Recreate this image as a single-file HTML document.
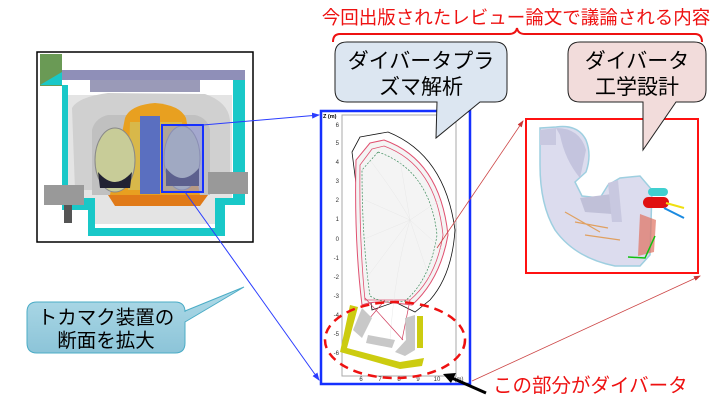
<!DOCTYPE html>
<html><head><meta charset="utf-8"><style>
html,body{margin:0;padding:0;background:#fff;width:720px;height:405px;overflow:hidden}
svg{display:block}
text{font-family:"Liberation Sans","Noto Sans CJK JP",sans-serif}
</style></head><body>
<svg width="720" height="405" viewBox="0 0 720 405" xmlns="http://www.w3.org/2000/svg">
<defs>
<marker id="ab" markerWidth="8" markerHeight="8" refX="7" refY="4" orient="auto" markerUnits="userSpaceOnUse"><path d="M0,1 L8,4 L0,7 z" fill="#2a3cff"/></marker>
<marker id="ar" markerWidth="7" markerHeight="7" refX="6" refY="3.5" orient="auto" markerUnits="userSpaceOnUse"><path d="M0,1 L7,3.5 L0,6 z" fill="#c33"/></marker>
<linearGradient id="tg" x1="0" y1="0" x2="0" y2="1"><stop offset="0" stop-color="#b0dbe8"/><stop offset="1" stop-color="#8cc4d8"/></linearGradient>
</defs>

<text x="516" y="24" font-size="18.5" fill="#ee1111" text-anchor="middle">今回出版されたレビュー論文で議論される内容</text>
<path d="M333,42 Q333,34 340,34 L509,34 Q516,34 517,28 Q518,34 525,34 L695,34 Q702,34 702,42" fill="none" stroke="#ee1111" stroke-width="2"/>

<!-- tokamak picture -->
<rect x="37" y="52" width="216" height="190" fill="#fff" stroke="#000" stroke-width="1.5"/>
<rect x="40" y="54" width="22" height="32" fill="#6a9a55"/>
<path d="M40,85 L62,72 L62,210 L88,210 L88,236 L225,236 L225,205 L245,205 L245,80 L233,80 L233,198 L215,198 L215,228 L95,228 L95,198 L68,198 L68,85 Z" fill="#19c8c8"/>
<path d="M68,95 L232,95 L232,198 L215,198 L215,224 L95,224 L95,198 L68,198 Z" fill="#e4e4e4"/>
<path d="M62,70 L245,70 L245,80 L62,80 Z" fill="#8f8fb8"/>
<path d="M90,80 L200,80 L200,92 L90,92 Z" fill="#9a9ab8"/>
<path d="M72,108 Q78,97 108,93 L205,94 Q228,102 230,120 L230,190 L75,190 Z" fill="#d0d0d0"/>
<path d="M92,130 Q95,118 108,115 L195,115 Q208,118 210,130 L210,195 L92,195 Z" fill="#c0c0c0"/>
<path d="M125,118 Q130,105 155,103 Q180,105 186,118 L200,195 L110,195 Z" fill="#e8a020"/>
<path d="M130,122 L182,122 L186,190 L128,190 Z" fill="#d8b84a"/>
<rect x="140" y="116" width="20" height="78" fill="#5a6fc0"/>
<ellipse cx="115" cy="160" rx="20" ry="32" fill="#c8cc98" stroke="#888"/>
<ellipse cx="182" cy="158" rx="18" ry="32" fill="#b8c4a6" stroke="#888"/>
<path d="M98,172 Q115,192 132,172 L130,188 L100,188 Z" fill="#223"/>
<path d="M166,168 Q182,188 199,168 L199,186 L166,186 Z" fill="#223"/>
<path d="M108,195 L208,195 L200,206 L115,206 Z" fill="#e07a18"/>
<rect x="44" y="185" width="40" height="20" fill="#999"/>
<rect x="208" y="172" width="40" height="22" fill="#999"/>
<rect x="64" y="205" width="8" height="18" fill="#555"/>
<rect x="162" y="125" width="41" height="67" fill="#8d93d8" fill-opacity="0.55" stroke="#1530ff" stroke-width="2"/>

<line x1="203" y1="125" x2="319" y2="115" stroke="#2a3cff" stroke-width="1" marker-end="url(#ab)"/>
<line x1="185" y1="192" x2="319" y2="380" stroke="#2a3cff" stroke-width="1" marker-end="url(#ab)"/>

<!-- plasma plot -->
<rect x="321" y="111" width="149" height="273" fill="#fff" stroke="#1530ff" stroke-width="2.5"/>
<rect x="342" y="115" width="114" height="261" fill="#fff" stroke="#aaa" stroke-width="1"/>
<text x="323" y="118" font-size="5.5" font-weight="bold" fill="#000">Z (m)</text>
<g font-size="6" fill="#333" text-anchor="end">
<text x="339" y="127">6</text><text x="339" y="145">5</text><text x="339" y="164">4</text><text x="339" y="183">3</text><text x="339" y="202">2</text><text x="339" y="221">1</text><text x="339" y="241">0</text><text x="339" y="260">-1</text><text x="339" y="279">-2</text><text x="339" y="298">-3</text><text x="339" y="317">-4</text><text x="339" y="336">-5</text><text x="339" y="355">-6</text>
</g>
<g font-size="6" fill="#333" text-anchor="middle">
<text x="361" y="381">6</text><text x="380" y="381">7</text><text x="399" y="381">8</text><text x="418" y="381">9</text><text x="437" y="381">10</text><text x="456" y="381">R (m)</text>
</g>
<path d="M360,137 L388,132 Q445,155 455,230 Q452,275 430,300 L415,312 L395,302 L372,310 L352,152 Z" fill="none" stroke="#111" stroke-width="0.8"/>
<path d="M370,143 L384,140 Q440,160 448,235 Q440,280 412,305 L395,303 Q375,300 362,305 Q354,240 356,160 Z" fill="#f4f4f4" stroke="#e05070" stroke-width="1"/>
<path d="M372,149 L384,146 Q436,165 443,235 Q436,278 410,300 Q380,300 365,300 Q359,240 360,165 Z" fill="none" stroke="#e05070" stroke-width="0.8"/>
<path d="M378,152 Q430,170 437,235 Q430,280 405,301 Q385,305 370,296 Q362,240 362,170 Z" fill="none" stroke="#3a8a5a" stroke-width="0.7" stroke-dasharray="2,1.5"/>
<g stroke="#e4e4e4" stroke-width="0.4" fill="none">
<path d="M370,160 Q400,200 410,220 M365,200 L410,220 M362,240 L410,220 M365,280 L410,220 M440,200 L410,220 M443,250 L410,220 M430,280 L410,220 M400,160 L410,220 M410,220 Q395,270 390,340"/>
</g>
<path d="M385,300 L358,332 M410,300 L402,340 M365,298 L403,340" fill="none" stroke="#d04060" stroke-width="0.7"/>
<path d="M362,308 L353,330 L362,338 L372,318 Z" fill="#c8c8c8"/>
<path d="M368,335 L395,340 L392,348 L366,343 Z" fill="#c8c8c8"/>
<path d="M405,318 L415,315 L415,350 L405,356 L395,352 L406,340 Z" fill="#c8c8c8"/>
<path d="M350,305 L358,307 L347,348 L400,362 L424,358 L422,366 L400,369 L340,352 Z" fill="#cccc10"/>
<rect x="417" y="316" width="6" height="32" fill="#cccc10"/>
<ellipse cx="395" cy="340" rx="70" ry="38" fill="none" stroke="#ee1111" stroke-width="2.5" stroke-dasharray="9,6"/>

<line x1="486" y1="393" x2="452" y2="378" stroke="#000" stroke-width="3"/>
<path d="M443,374 L456,373 L451,383 Z" fill="#000"/>
<text x="493" y="392" font-size="19.5" fill="#ee1111">この部分がダイバータ</text>

<line x1="437" y1="248" x2="523" y2="121" stroke="#cc4444" stroke-width="0.8" marker-end="url(#ar)"/>
<line x1="472" y1="381" x2="700" y2="276" stroke="#cc4444" stroke-width="0.8" marker-end="url(#ar)"/>

<!-- divertor engineering picture -->
<rect x="526" y="119" width="172" height="154" fill="#fff" stroke="#ff1111" stroke-width="2"/>
<path d="M540,128 L556,127 Q578,124 586,140 Q592,155 586,172 L575,182 L582,196 L600,198 L608,185 L620,178 L640,176 L652,190 L650,255 L640,266 L615,266 Q575,258 555,230 Q540,205 540,165 Z" fill="#dcdcee" stroke="#9ecfe0" stroke-width="1.5"/>
<path d="M556,128 Q580,128 586,150 L580,178 Q565,160 560,135 Z" fill="#c4c4de"/>
<path d="M540,130 L556,128 L556,145 L540,145 Z" fill="#c8c8e0"/>
<path d="M580,198 L612,194 L612,214 L585,212 Z" fill="#c0c0d8"/>
<path d="M608,183 L618,180 L622,222 L612,222 Z" fill="#c8c8e0"/>
<path d="M565,212 L600,232 M575,222 L608,228 M585,235 L620,240" stroke="#e0a060" stroke-width="1.2"/>
<rect x="648" y="188" width="20" height="8" rx="4" fill="#40d0d0"/>
<rect x="643" y="197" width="26" height="11" rx="5.5" fill="#e01010"/>
<path d="M666,203 L684,208" stroke="#f0e010" stroke-width="2"/>
<path d="M664,208 L684,218" stroke="#1a8ae0" stroke-width="2"/>
<path d="M640,214 L656,220 L654,252 L638,256 Z" fill="#e07060" fill-opacity="0.7"/>
<path d="M628,257 L645,258 L655,236" stroke="#10c010" stroke-width="1.5" fill="none"/>

<!-- callout 1 -->
<path d="M347,42 L495,42 Q507,42 507,54 L507,90 Q507,102 495,102 L480,102 L436,138 L437,102 L347,102 Q335,102 335,90 L335,54 Q335,42 347,42 Z" fill="#dce6f1" stroke="#222" stroke-width="1"/>
<text x="421" y="68" font-size="21" fill="#000" text-anchor="middle">ダイバータプラ</text>
<text x="421" y="94" font-size="21" fill="#000" text-anchor="middle">ズマ解析</text>

<!-- callout 2 -->
<path d="M580,42 L694,42 Q706,42 706,54 L706,90 Q706,102 694,102 L676,102 L643,150 L643,102 L580,102 Q568,102 568,90 L568,54 Q568,42 580,42 Z" fill="#f2dcdb" stroke="#222" stroke-width="1"/>
<text x="637" y="68" font-size="21" fill="#000" text-anchor="middle">ダイバータ</text>
<text x="637" y="94" font-size="21" fill="#000" text-anchor="middle">工学設計</text>

<!-- callout 3 -->
<path d="M37,302 L175,302 Q185,302 185,312 L185,311 L244,287 L185,322 L185,343 Q185,353 175,353 L37,353 Q27,353 27,343 L27,312 Q27,302 37,302 Z" fill="url(#tg)" stroke="#4bacc6" stroke-width="1"/>
<text x="106" y="324" font-size="19.5" fill="#000" text-anchor="middle">トカマク装置の</text>
<text x="106" y="347" font-size="19.5" fill="#000" text-anchor="middle">断面を拡大</text>
</svg>
</body></html>
